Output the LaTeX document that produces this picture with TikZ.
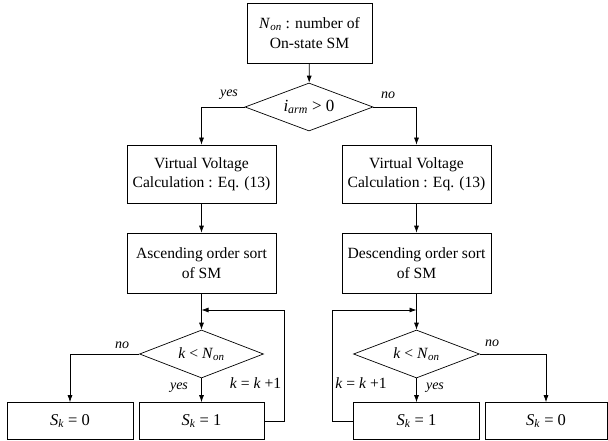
\documentclass[tikz,border=0pt]{standalone}
\usepackage{fontspec}
\setmainfont{Liberation Serif}
\usetikzlibrary{arrows.meta,shapes.geometric,calc}
\newcommand{\vNon}{\textit{N}\textsubscript{\textit{on}}}
\newcommand{\viarm}{\textit{i}\textsubscript{\textit{arm}}}
\newcommand{\vSk}{\textit{S}\textsubscript{\textit{k}}}
\begin{document}
\begin{tikzpicture}[x=1pt,y=-1pt,
  every node/.style={font=\fontsize{15.6}{19.5}\selectfont},
  blk/.style={draw,line width=0.7pt,rectangle,inner sep=0pt,align=center},
  dia/.style={draw,line width=0.7pt,diamond,inner sep=0pt,aspect=2.6},
  lab/.style={font=\fontsize{14}{16}\selectfont\itshape,inner sep=0pt},
  arr/.style={line width=0.7pt,-{Latex[length=7pt,width=5pt]}},
  ln/.style={line width=0.7pt}]
\useasboundingbox (0,0) rectangle (608,441);
% boxes
\node[blk,minimum width=125pt,minimum height=60pt] (top) at (309.5,33) {\vNon{} : number of\\On-state SM};
\node[dia,minimum width=128pt,minimum height=48pt,font=\fontsize{17}{20}\selectfont] (topD) at (309,107) {\viarm{} > 0};
\node[blk,minimum width=149pt,minimum height=58pt] (LV) at (201.5,174) {Virtual Voltage\\Calculation : Eq. (13)};
\node[blk,minimum width=149pt,minimum height=58pt] (RV) at (416.5,174) {Virtual Voltage\\Calculation : Eq. (13)};
\node[blk,minimum width=149pt,minimum height=60pt] (LA) at (201.5,263) {Ascending order sort\\of SM};
\node[blk,minimum width=149pt,minimum height=60pt] (RA) at (416.5,263) {Descending order sort\\of SM};
\node[dia,minimum width=124pt,minimum height=48pt] (LD) at (201.5,354) {\textit{k} < \vNon};
\node[dia,minimum width=126pt,minimum height=48pt] (RD) at (416.5,354) {\textit{k} < \vNon};
\node[blk,minimum width=126pt,minimum height=37pt,font=\fontsize{16.5}{19}\selectfont] (L0) at (70,421) {\vSk{} = 0};
\node[blk,minimum width=125pt,minimum height=37pt,font=\fontsize{16.5}{19}\selectfont] (L1) at (201.5,421) {\vSk{} = 1};
\node[blk,minimum width=126pt,minimum height=37pt,font=\fontsize{16.5}{19}\selectfont] (R1) at (416.5,421) {\vSk{} = 1};
\node[blk,minimum width=122pt,minimum height=37pt,font=\fontsize{16.5}{19}\selectfont] (R0) at (546,421) {\vSk{} = 0};
\coordinate (Lm) at (201.5,310);
\coordinate (Rm) at (416.5,310);
% connectors
\draw[arr] (top) -- (topD);
\draw[arr] (topD.west) -| (LV.north);
\draw[arr] (topD.east) -| (RV.north);
\draw[arr] (LV) -- (LA);
\draw[arr] (RV) -- (RA);
\draw[arr] (LA.south) -- (LD.north);
\draw[arr] (RA.south) -- (RD.north);
\draw[arr] (LD.south) -- (L1.north);
\draw[arr] (RD.south) -- (R1.north);
\draw[arr] (LD.west) -| (L0.north);
\draw[arr] (RD.east) -| (R0.north);
\draw[arr] (L1.east) -- ++(20,0) |- (Lm);
\draw[arr] (R1.west) -- ++(-21,0) |- (Rm);
% labels
\node[lab] (ly0) at (229,95) {yes};
\node[lab] (ln0) at (388,95) {no};
\node[lab] (lnL) at (122,345) {no};
\node[lab] (lyL) at (179,388) {yes};
\node[inner sep=0pt] (lkL) at (255.5,383) {\textit{k} = \textit{k} +1};
\node[lab] (lnR) at (492,343) {no};
\node[lab] (lyR) at (435,388) {yes};
\node[inner sep=0pt] (lkR) at (361,383) {\textit{k} = \textit{k} +1};
\end{tikzpicture}
\end{document}
